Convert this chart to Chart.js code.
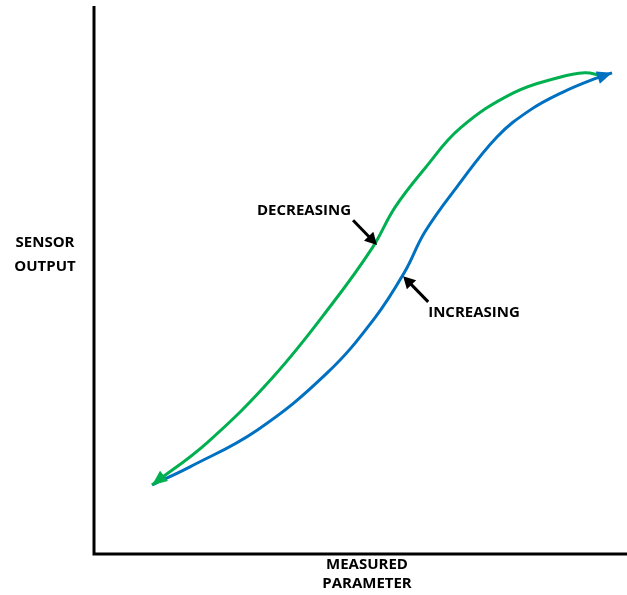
<!DOCTYPE html>
<html>
<head>
<meta charset="utf-8">
<script src="https://cdn.jsdelivr.net/npm/chart.js@4"></script>
<style>
  html, body { margin: 0; padding: 0; background: #fff; }
  #wrap { width: 627px; height: 595px; position: relative; }
</style>
</head>
<body>
<div id="wrap"><canvas id="c"></canvas></div>
<script>
// Decreasing curve (green) (x: measured parameter, y: sensor output, 0-100)
const decreasingX = [10.9, 21.2, 33.6, 44.8, 52.3, 56.5, 62.1, 68.7, 78.6, 87.4, 92.1, 94.9];
const decreasingY = [12.6, 20.3, 32.3, 45.8, 56.0, 63.3, 70.4, 77.7, 84.1, 87.0, 87.8, 87.4];
// Increasing curve (blue)
const increasingX = [10.9, 18.0, 30.6, 43.7, 52.7, 58.3, 62.1, 68.1, 75.6, 81.8, 88.0, 94.4, 97.2];
const increasingY = [12.6, 15.9, 22.6, 33.0, 43.1, 51.5, 58.8, 67.0, 76.1, 81.0, 84.3, 86.9, 87.8];

const labels = { y: ['SENSOR', 'OUTPUT'], x: ['MEASURED', 'PARAMETER'] };
const annotations = [
  { text: 'DECREASING', tx: 39.4, ty: 62.6, from: [48.6, 60.9], to: [53.1, 56.4] },
  { text: 'INCREASING', tx: 71.3, ty: 44.0, from: [62.7, 46.0], to: [58.0, 50.7] }
];

const GREEN = '#00B050';
const BLUE = '#0070C0';
const FONT = 'bold 15px "Open Sans", "Liberation Sans", sans-serif';

function toPts(xs, ys) { return xs.map((x, i) => ({ x: x, y: ys[i] })); }

function arrowHead(ctx, tipX, tipY, fromX, fromY, len, half, color) {
  const a = Math.atan2(tipY - fromY, tipX - fromX);
  ctx.save();
  ctx.fillStyle = color;
  ctx.beginPath();
  ctx.moveTo(tipX, tipY);
  ctx.lineTo(tipX - len * Math.cos(a) + half * Math.sin(a), tipY - len * Math.sin(a) - half * Math.cos(a));
  ctx.lineTo(tipX - len * Math.cos(a) - half * Math.sin(a), tipY - len * Math.sin(a) + half * Math.cos(a));
  ctx.closePath();
  ctx.fill();
  ctx.restore();
}

const decor = {
  id: 'decor',
  afterDatasetsDraw(chart) {
    const ctx = chart.ctx;
    const xs = chart.scales.x, ys = chart.scales.y;
    const area = chart.chartArea;
    // curve arrowheads
    const g = chart.getDatasetMeta(0).data;
    arrowHead(ctx, g[0].x, g[0].y, g[1].x, g[1].y, 15, 6.5, GREEN);
    const b = chart.getDatasetMeta(1).data;
    const n = b.length;
    arrowHead(ctx, b[n - 1].x, b[n - 1].y, b[n - 2].x, b[n - 2].y, 15, 6.5, BLUE);

    // annotations
    ctx.save();
    ctx.font = FONT;
    ctx.fillStyle = '#000';
    ctx.textAlign = 'center';
    ctx.textBaseline = 'middle';
    annotations.forEach(an => {
      ctx.fillText(an.text, xs.getPixelForValue(an.tx), ys.getPixelForValue(an.ty));
      const fx = xs.getPixelForValue(an.from[0]), fy = ys.getPixelForValue(an.from[1]);
      const tx = xs.getPixelForValue(an.to[0]), ty = ys.getPixelForValue(an.to[1]);
      const a = Math.atan2(ty - fy, tx - fx);
      ctx.strokeStyle = '#000';
      ctx.lineWidth = 3;
      ctx.beginPath();
      ctx.moveTo(fx, fy);
      ctx.lineTo(tx - 8 * Math.cos(a), ty - 8 * Math.sin(a));
      ctx.stroke();
      arrowHead(ctx, tx, ty, fx, fy, 12, 6.5, '#000');
    });

    // axes
    ctx.strokeStyle = '#000';
    ctx.lineWidth = 3;
    ctx.beginPath();
    ctx.moveTo(area.left, area.top);
    ctx.lineTo(area.left, area.bottom);
    ctx.lineTo(chart.width, area.bottom);
    ctx.stroke();

    // axis titles
    ctx.fillText(labels.y[0], 45, 243);
    ctx.fillText(labels.y[1], 45, 267);
    ctx.fillText(labels.x[0], 367, 565);
    ctx.fillText(labels.x[1], 367, 584);
    ctx.restore();
  }
};

new Chart(document.getElementById('c'), {
  type: 'scatter',
  data: {
    datasets: [
      {
        label: 'Decreasing',
        data: toPts(decreasingX, decreasingY),
        showLine: true,
        borderColor: GREEN,
        borderWidth: 3,
        pointRadius: 0,
        tension: 0.4,
        fill: false
      },
      {
        label: 'Increasing',
        data: toPts(increasingX, increasingY),
        showLine: true,
        borderColor: BLUE,
        borderWidth: 3,
        pointRadius: 0,
        tension: 0.4,
        fill: false
      }
    ]
  },
  options: {
    responsive: true,
    maintainAspectRatio: false,
    animation: false,
    layout: { padding: { left: 94, right: 0, top: 6, bottom: 41 } },
    plugins: { legend: { display: false }, tooltip: { enabled: false } },
    scales: {
      x: { type: 'linear', min: 0, max: 100, display: false },
      y: { type: 'linear', min: 0, max: 100, display: false }
    }
  },
  plugins: [decor]
});
</script>
</body>
</html>
